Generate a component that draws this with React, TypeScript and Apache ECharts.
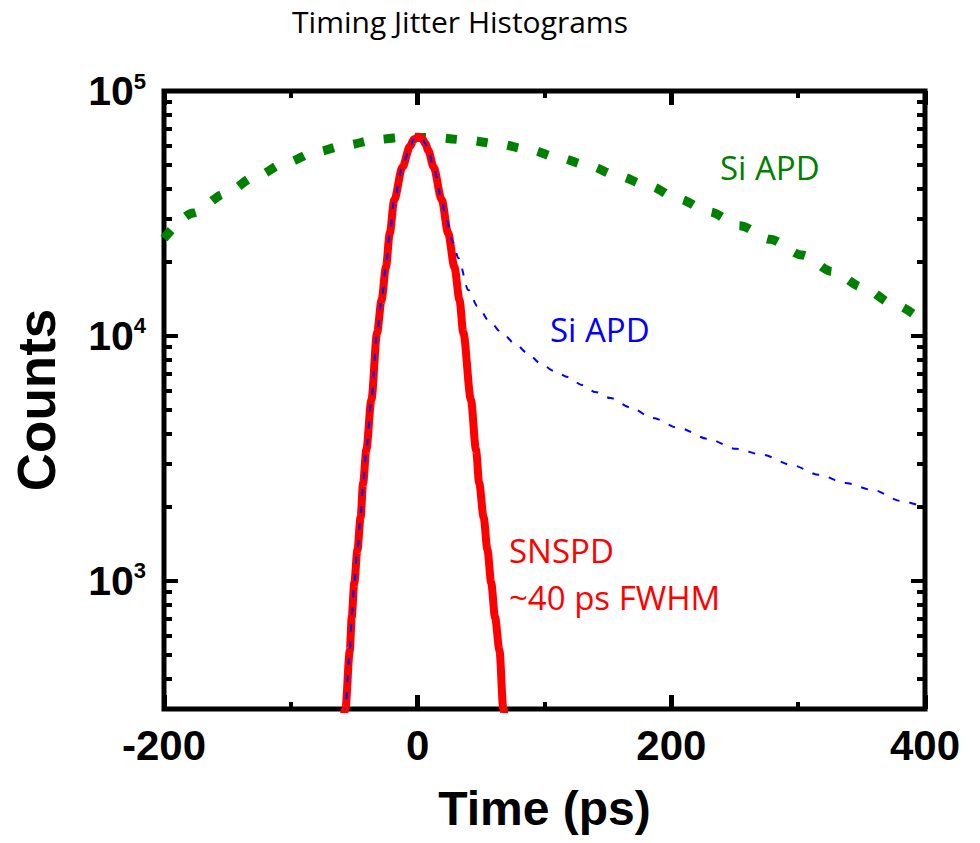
import React, { useEffect, useRef } from 'react';
import * as echarts from 'echarts';

// ---- data ----
const xTickLabels = [-200, 0, 200, 400];
const yMajorTicks = [1000, 10000, 100000];
const yMinorTicks = [400, 500, 600, 700, 800, 900, 2000, 3000, 4000, 5000, 6000, 7000, 8000, 9000, 20000, 30000, 40000, 50000, 60000, 70000, 80000, 90000];

// SNSPD (red)
const snspdTime = [-60, -57, -53.5, -52, -50, -47.5, -45, -43, -40.5, -36.5, -32, -28.5, -25, -22, -18.5, -12, -6, -3, 1, 4, 6, 8.5, 12.5, 19, 24, 29, 33, 36, 42, 46, 48.5, 52, 55, 58, 61, 64.5, 67.5, 70];
const snspdCounts = [240, 300, 520, 710, 980, 1340, 1820, 2510, 3430, 5480, 10300, 14000, 19100, 26300, 35900, 49000, 59500, 63500, 65000, 63500, 61000, 57000, 49000, 35900, 26300, 19100, 14000, 10300, 5480, 3430, 2510, 1820, 1340, 980, 710, 520, 300, 240];

// Si APD (blue, dotted)
const apdBlueTime = [-60, -57, -53.5, -52, -50, -47.5, -45, -43, -40.5, -36.5, -32, -28.5, -25, -22, -18.5, -12, -6, -3, 1, 4, 6, 8.5, 12.5, 19, 22, 28, 32, 40, 47, 57, 66.5, 77, 86.5, 96.5, 107.5, 118.5, 129.5, 140, 152, 168, 185, 206, 229, 251, 272, 295, 316.5, 337, 359, 381, 400];
const apdBlueCounts = [240, 300, 520, 710, 980, 1340, 1820, 2510, 3430, 5480, 10300, 14000, 19100, 26300, 35900, 49000, 59500, 63500, 65000, 63500, 61000, 57000, 49000, 35900, 30500, 24000, 20800, 15400, 13250, 11400, 10280, 9270, 8520, 7760, 7200, 6800, 6310, 5910, 5580, 5100, 4630, 4210, 3800, 3460, 3270, 2970, 2710, 2510, 2350, 2120, 1990];

// Si APD (green, dashed)
const apdGreenTime = [-200, -177, -152, -128, -104, -80, -56, -32, -9, 15, 39, 63, 87.5, 111, 134.5, 158, 182.5, 206, 230, 254, 278, 303, 327, 351, 375, 400];
const apdGreenCounts = [25000, 31800, 38000, 44700, 50900, 56500, 60200, 63400, 64900, 64400, 63100, 60800, 57800, 53400, 49700, 45000, 40900, 36200, 32100, 28200, 24800, 21400, 18300, 15800, 13500, 11300];

const pairs = (xs: number[], ys: number[]) => xs.map((x, i) => [x, ys[i]]);

const SANS = "'Liberation Sans', Arial, sans-serif";
const LABELF = "'Open Sans', sans-serif";

export default function App() {
  const ref = useRef<HTMLDivElement>(null);
  useEffect(() => {
    if (!ref.current) return;
    const chart = echarts.init(ref.current, undefined, { renderer: 'svg' });
    const yBase = { type: 'log', min: 300, max: 100000, logBase: 10, splitLine: { show: false }, axisLine: { show: false, onZero: false } };
    const xBase = { type: 'value', min: -200, max: 400, interval: 200, splitLine: { show: false }, axisLine: { show: false, onZero: false } };
    chart.setOption({
      animation: false,
      backgroundColor: '#fff',
      grid: { left: 164, right: 55, top: 91, bottom: 134, show: true, borderColor: '#000', borderWidth: 5, backgroundColor: 'transparent' },
      xAxis: [
        {
          ...xBase, position: 'bottom',
          axisTick: { show: true, inside: true, length: 14, lineStyle: { color: '#000', width: 5 } },
          minorTick: { show: true, splitNumber: 2, length: 7, lineStyle: { color: '#000', width: 4 } },
          axisLabel: {
            show: true, margin: 15, color: '#000', fontSize: 42, fontWeight: 'bold', fontFamily: SANS,
            customValues: xTickLabels, showMinLabel: true, showMaxLabel: true,
          },
          name: 'Time (ps)', nameLocation: 'middle', nameGap: 75,
          nameTextStyle: { color: '#000', fontSize: 48, fontWeight: 'bold', fontFamily: SANS },
        },
        {
          ...xBase, position: 'top',
          axisTick: { show: true, inside: true, length: 14, lineStyle: { color: '#000', width: 5 } },
          minorTick: { show: true, splitNumber: 2, length: 7, lineStyle: { color: '#000', width: 4 } },
          axisLabel: { show: false },
        },
      ],
      yAxis: [
        {
          ...yBase, position: 'left',
          axisTick: { show: true, inside: true, length: 14, customValues: yMajorTicks, lineStyle: { color: '#000', width: 4 } },
          axisLabel: {
            show: true, margin: 18, customValues: yMajorTicks,
            formatter: (v: number) => `{b|10}{s|${Math.round(Math.log10(v))}}`,
            rich: {
              b: { fontSize: 41, fontWeight: 'bold', fontFamily: SANS, color: '#000', lineHeight: 42 },
              s: { fontSize: 22, fontWeight: 'bold', fontFamily: SANS, color: '#000', lineHeight: 12, verticalAlign: 'top' },
            },
          },
          name: 'Counts', nameLocation: 'middle', nameGap: 101, nameRotate: 90,
          nameTextStyle: { color: '#000', fontSize: 53, fontWeight: 'bold', fontFamily: SANS },
        },
        {
          ...yBase, position: 'left',
          axisTick: { show: true, inside: true, length: 8, customValues: yMinorTicks, lineStyle: { color: '#000', width: 4 } },
          axisLabel: { show: false },
        },
        {
          ...yBase, position: 'right',
          axisTick: { show: true, inside: true, length: 14, customValues: yMajorTicks, lineStyle: { color: '#000', width: 4 } },
          axisLabel: { show: false },
        },
        {
          ...yBase, position: 'right',
          axisTick: { show: true, inside: true, length: 8, customValues: yMinorTicks, lineStyle: { color: '#000', width: 4 } },
          axisLabel: { show: false },
        },
      ],
      series: [
        {
          name: 'Si APD (green)', type: 'line', data: pairs(apdGreenTime, apdGreenCounts),
          showSymbol: false, smooth: 0.3, smoothMonotone: 'x', clip: true, z: 2,
          lineStyle: { color: '#008000', width: 9, type: [11, 20], cap: 'butt' },
        },
        {
          name: 'SNSPD', type: 'line', data: pairs(snspdTime, snspdCounts),
          showSymbol: false, smooth: 0.3, smoothMonotone: 'x', clip: true, z: 3,
          lineStyle: { color: '#ff0000', width: 8, join: 'round' },
        },
        {
          name: 'Si APD (blue)', type: 'line', data: pairs(apdBlueTime, apdBlueCounts),
          showSymbol: false, smooth: 0.3, smoothMonotone: 'x', clip: true, z: 4,
          lineStyle: { color: '#0000ff', width: 2, type: [7, 10], cap: 'butt' },
        },
      ],
      graphic: [
        { type: 'text', x: 460, y: 21, style: { text: 'Timing Jitter Histograms', fill: '#000', fontSize: 30, fontFamily: LABELF, align: 'center', verticalAlign: 'middle' } },
        { type: 'text', x: 720, y: 167, style: { text: 'Si APD', fill: '#008000', fontSize: 33, fontFamily: LABELF, align: 'left', verticalAlign: 'middle' } },
        { type: 'text', x: 550, y: 329, style: { text: 'Si APD', fill: '#0000ff', fontSize: 33, fontFamily: LABELF, align: 'left', verticalAlign: 'middle' } },
        { type: 'text', x: 509, y: 550, style: { text: 'SNSPD', fill: '#ff0000', fontSize: 33, fontFamily: LABELF, align: 'left', verticalAlign: 'middle' } },
        { type: 'text', x: 509, y: 597, style: { text: '~40 ps FWHM', fill: '#ff0000', fontSize: 33, fontFamily: LABELF, align: 'left', verticalAlign: 'middle' } },
      ],
    });
    return () => chart.dispose();
  }, []);
  return <div ref={ref} style={{ position: 'absolute', left: 0, top: 0, width: 980, height: 843 }} />;
}
